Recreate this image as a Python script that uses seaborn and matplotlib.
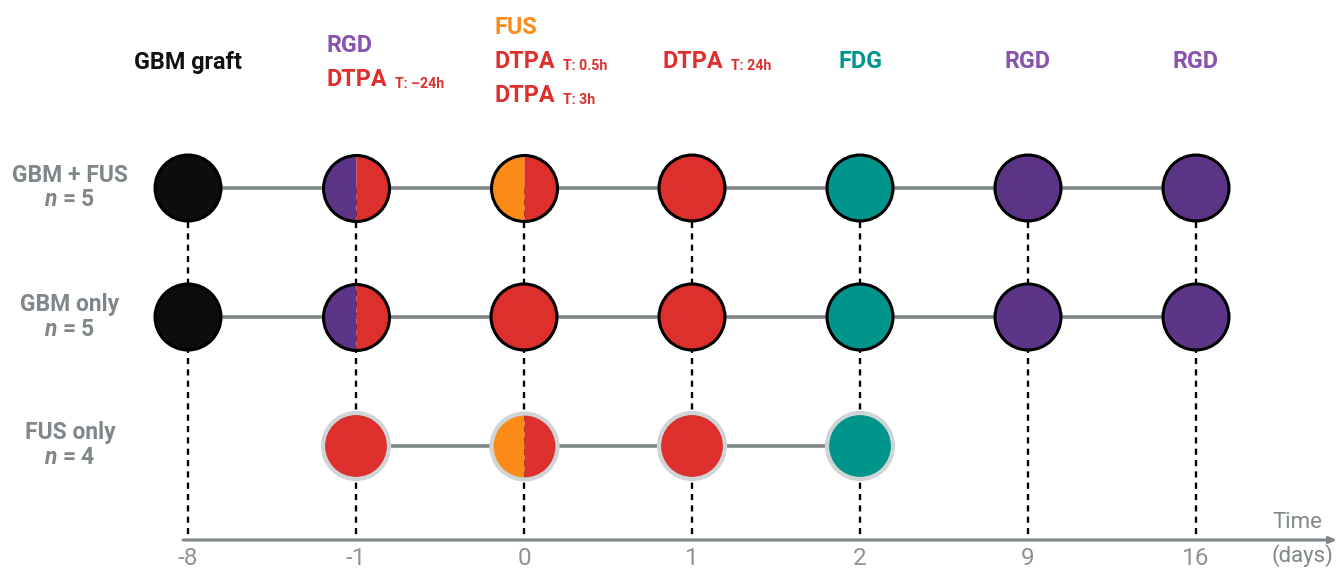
import matplotlib
matplotlib.use("Agg")
import matplotlib.pyplot as plt
import seaborn as sns
import pandas as pd

# timeline categories and groups
days = ["-8", "-1", "0", "1", "2", "9", "16"]
groups = ["GBM + FUS", "GBM only", "FUS only"]
group_n = [5, 5, 4]

# what each group got on each day ("A/B" = half A, half B)
gbm_fus = ["graft", "RGD/DTPA", "FUS/DTPA", "DTPA", "FDG", "RGD", "RGD"]
gbm_only = ["graft", "RGD/DTPA", "DTPA", "DTPA", "FDG", "RGD", "RGD"]
fus_only = [None, "DTPA", "FUS/DTPA", "DTPA", "FDG", None, None]

# header above each day
header_main = [["GBM graft"], ["RGD", "DTPA"], ["FUS", "DTPA", "DTPA"],
               ["DTPA"], ["FDG"], ["RGD"], ["RGD"]]
header_sub = [[""], ["", "T: \u201324h"], ["", "T: 0.5h", "T: 3h"],
              ["T: 24h"], [""], [""], [""]]

circle_colors = {"graft": "#0d0d0d", "RGD": "#5c3488", "DTPA": "#dd2f2b",
                 "FUS": "#fc8a17", "FDG": "#00958b"}
text_colors = {"GBM graft": "#111111", "RGD": "#8752b0", "DTPA": "#dd2f2b",
               "FUS": "#fb8b1c", "FDG": "#00968c"}
grey = "#7f878a"
label_grey = "#80878a"

sns.set_theme(style="white")
plt.rcParams["font.family"] = ["Roboto", "DejaVu Sans"]
plt.rcParams["mathtext.fontset"] = "custom"
plt.rcParams["mathtext.bfit"] = "Roboto:italic:bold"
plt.rcParams["mathtext.it"] = "Roboto:italic:bold"

# long table of every circle
rows = []
for g, seq in zip(groups, [gbm_fus, gbm_only, fus_only]):
    for d, item in zip(days, seq):
        if item:
            rows.append({"group": g, "day": d, "x": days.index(d),
                         "y": groups.index(g), "item": item})
df = pd.DataFrame(rows)

W, H = 1338, 568
x0, xgap = 188, 168     # pixel of first day, pixels per day slot
y0, ygap = 188, 129     # pixel of first row, pixels per row


def px_x(p):
    return (p - x0) / xgap


def px_y(p):
    return (p - y0) / ygap


fig = plt.figure(figsize=(W / 100, H / 100), dpi=100)
ax = fig.add_axes([0, 0, 1, 1])
ax.set_xlim(px_x(0), px_x(W))
ax.set_ylim(px_y(H), px_y(0))
ax.axis("off")

axis_y = px_y(540)

# dashed guides
ax.vlines(range(len(days)), 0, axis_y, colors="black", lw=1.7,
          linestyles=(0, (2.6, 2.2)), zorder=1)

# connecting lines per group
sns.lineplot(data=df, x="x", y="y", units="group", estimator=None, sort=False,
             color=grey, lw=2.6, legend=False, ax=ax, zorder=2)

# time axis
ax.annotate("", xy=(px_x(W - 1), axis_y), xytext=(px_x(183), axis_y),
            arrowprops=dict(arrowstyle="-|>,head_length=0.35,head_width=0.15",
                            color=grey, lw=2.2, shrinkA=0, shrinkB=0))

ms = 47.5
for g in groups:
    sub = df[df["group"] == g]
    edge = "#cfd4d6" if g == "FUS only" else "black"
    mew = 3.0 if g == "FUS only" else 2.2
    full = sub[~sub["item"].str.contains("/")]
    sns.scatterplot(data=full, x="x", y="y", hue="item", palette=circle_colors,
                    s=ms ** 2, edgecolor=edge, linewidth=mew, legend=False,
                    ax=ax, zorder=3)
    for _, r in sub[sub["item"].str.contains("/")].iterrows():
        left, right = r["item"].split("/")
        ax.plot(r["x"], r["y"], marker="o", ms=ms, fillstyle="left",
                mfc=circle_colors[left], mfcalt=circle_colors[right],
                mec="none", mew=0, ls="none", zorder=3)
        ax.plot(r["x"], r["y"], marker="o", ms=ms, mfc="none",
                mec=edge, mew=mew, ls="none", zorder=4)

# headers
for i, (mains, subs) in enumerate(zip(header_main, header_sub)):
    n = len(mains)
    left_align = any(subs)
    for k, (m, s) in enumerate(zip(mains, subs)):
        yy = px_y(62 + (k - (n - 1) / 2) * 34)
        if left_align:
            t = ax.text(i + px_x(x0 - 29), yy, m, ha="left", va="center",
                        fontsize=16.8, fontweight="bold", color=text_colors[m])
        else:
            t = ax.text(i, yy, m, ha="center", va="center",
                        fontsize=16.8, fontweight="bold", color=text_colors[m])
        if s:
            ax.annotate(s, xy=(1, 0), xycoords=t, xytext=(5, 0),
                        textcoords="offset points", ha="left", va="bottom",
                        fontsize=10.2, fontweight="bold", color=text_colors[m])

# group labels
for j, (g, n) in enumerate(zip(groups, group_n)):
    ax.text(px_x(70), j + px_y(y0 - 13), g, ha="center", va="center",
            fontsize=16.5, fontweight="bold", color=label_grey)
    ax.text(px_x(70), j + px_y(y0 + 12), r"$\mathbfit{n}$ = " + str(n),
            ha="center", va="center", fontsize=16.5, fontweight="bold",
            color=label_grey)

# day tick labels
for i, d in enumerate(days):
    ax.text(i, px_y(547), d, ha="center", va="top", fontsize=17.5,
            color="#8d9396")
ax.text(px_x(1297), px_y(522), "Time", ha="center", va="center",
        fontsize=16, color=label_grey)
ax.text(px_x(1302), px_y(556), "(days)", ha="center", va="center",
        fontsize=16, color=label_grey)

fig.savefig("out.png", dpi=100)
